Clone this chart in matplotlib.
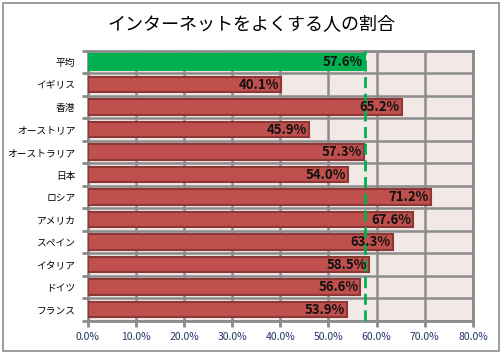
import numpy as np
import matplotlib.pyplot as plt
from matplotlib.patches import Rectangle

plt.rcParams['font.family'] = ['Noto Sans CJK JP', 'DejaVu Sans']

countries = ['平均', 'イギリス', '香港', 'オーストリア', 'オーストラリア', '日本',
             'ロシア', 'アメリカ', 'スペイン', 'イタリア', 'ドイツ', 'フランス']
rates = [57.6, 40.1, 65.2, 45.9, 57.3, 54.0, 71.2, 67.6, 63.3, 58.5, 56.6, 53.9]
average = 57.6

vals = np.array(rates) / 100
y = np.arange(len(countries))
colors = ['#00B050'] + ['#C0504D'] * (len(countries) - 1)
edges = ['#00B050'] + ['#8C3836'] * (len(countries) - 1)

fig = plt.figure(figsize=(5.02, 3.53), dpi=100)
fig.patches.append(Rectangle((0.006, 0.006), 0.988, 0.985, transform=fig.transFigure,
                             fill=False, edgecolor='#8C8C8C', linewidth=1.2))
ax = fig.add_axes([0.175, 0.091, 0.767, 0.765])
ax.set_facecolor('#F2E8E6')

ax.barh(y, vals, height=0.68, color=colors, edgecolor=edges, linewidth=1.5, zorder=3)
for i, v in enumerate(vals):
    ax.text(v - 0.004, i, f'{rates[i]:.1f}%', ha='right', va='center',
            fontsize=9.5, fontweight='bold', color='#111111', zorder=5)

ax.axvline(average / 100, color='#00B050', linestyle=(0, (4, 2)), linewidth=2, zorder=4)

ax.set_xlim(0, 0.8)
ax.set_ylim(len(countries) - 0.5, -0.5)
ax.set_xticks(np.arange(0, 0.81, 0.1))
ax.set_xticklabels([f'{t * 100:.1f}%' for t in np.arange(0, 0.81, 0.1)],
                   fontsize=7.5, color='#1F3864')
ax.set_yticks(y)
ax.set_yticklabels(countries, fontsize=7)
ax.set_yticks(np.arange(-0.5, len(countries), 1), minor=True)
ax.tick_params(axis='y', which='major', length=0, pad=9)
ax.tick_params(axis='y', which='minor', length=4, width=2, color='#8C8C8C')
ax.tick_params(axis='x', length=4, width=2, color='#8C8C8C', pad=4)

ax.grid(axis='x', color='#8C8C8C', linewidth=1.8, zorder=1)
ax.grid(axis='y', which='minor', color='#8C8C8C', linewidth=1.8, zorder=1)
for s in ax.spines.values():
    s.set_color('#8C8C8C')
    s.set_linewidth(2)
ax.set_axisbelow(True)

fig.text(0.5, 0.932, 'インターネットをよくする人の割合', ha='center', va='center', fontsize=13)

fig.savefig('out.png', dpi=100)
